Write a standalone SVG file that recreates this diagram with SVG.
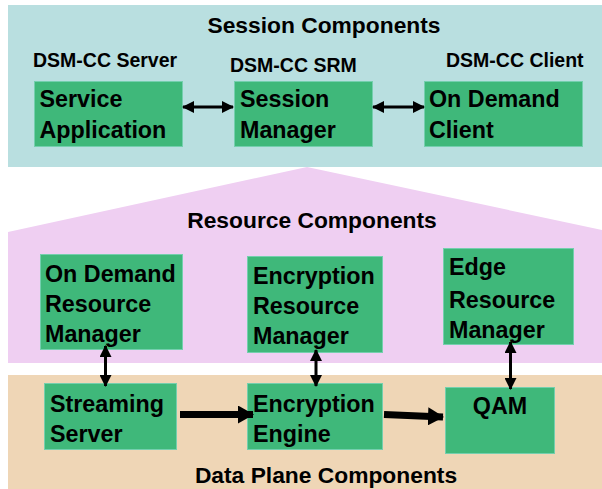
<svg xmlns="http://www.w3.org/2000/svg" width="602" height="489" viewBox="0 0 602 489">
<defs>
<marker id="ah" viewBox="0 0 12 12" refX="11" refY="6" markerWidth="12" markerHeight="12" markerUnits="userSpaceOnUse" orient="auto-start-reverse"><path d="M0,0 L12,6 L0,12 Z" fill="#000"/></marker>
<marker id="ahb" viewBox="0 0 16 18" refX="15" refY="9" markerWidth="16" markerHeight="18" markerUnits="userSpaceOnUse" orient="auto"><path d="M0,0 L16,9 L0,18 Z" fill="#000"/></marker>
</defs>
<style>
.box{fill:#3fb87a;stroke:#74cfae;stroke-width:1}
.t{font-family:"Liberation Sans",Arial,sans-serif;font-weight:bold;fill:#000}
.bt{font-size:23.3px}
.ti{font-size:22.8px}
.lb{font-size:19.5px}
.c{stroke:#000;fill:none}
</style>
<g id="panels">
<rect x="8" y="5" width="594" height="162" fill="#b9dfe0"/>
<polygon points="8,363 8,232 307,167 602,230 602,363" fill="#efcff2"/>
<rect x="8" y="375" width="594" height="114" fill="#efd6b6"/>
<text class="t ti" x="324" y="33" text-anchor="middle">Session Components</text>
<text class="t ti" x="312" y="228" text-anchor="middle">Resource Components</text>
<text class="t ti" x="326" y="483" text-anchor="middle">Data Plane Components</text>
<text class="t lb" x="33" y="67">DSM-CC Server</text>
<text class="t lb" x="230" y="72">DSM-CC SRM</text>
<text class="t lb" x="446" y="67">DSM-CC Client</text>
</g>
<g id="service-application">
<rect class="box" x="34.5" y="81.5" width="148" height="65"/>
<text class="t bt" x="39.5" y="107">Service</text>
<text class="t bt" x="39.5" y="138">Application</text>
</g>
<g id="session-manager">
<rect class="box" x="234.5" y="81.5" width="138" height="65"/>
<text class="t bt" x="240" y="107">Session</text>
<text class="t bt" x="240" y="138">Manager</text>
</g>
<g id="on-demand-client">
<rect class="box" x="424.5" y="81.5" width="158" height="65"/>
<text class="t bt" x="429" y="107">On Demand</text>
<text class="t bt" x="429" y="138">Client</text>
</g>
<g id="on-demand-resource-manager">
<rect class="box" x="40.5" y="254.5" width="142" height="95"/>
<text class="t bt" x="45" y="282">On Demand</text>
<text class="t bt" x="45" y="312">Resource</text>
<text class="t bt" x="45" y="342">Manager</text>
</g>
<g id="encryption-resource-manager">
<rect class="box" x="247.5" y="256.5" width="135" height="96"/>
<text class="t bt" x="253" y="284">Encryption</text>
<text class="t bt" x="253" y="314">Resource</text>
<text class="t bt" x="253" y="344">Manager</text>
</g>
<g id="edge-resource-manager">
<rect class="box" x="443.5" y="248.5" width="130" height="96"/>
<text class="t bt" x="449" y="275">Edge</text>
<text class="t bt" x="449" y="308">Resource</text>
<text class="t bt" x="449" y="338">Manager</text>
</g>
<g id="streaming-server">
<rect class="box" x="44.5" y="383.5" width="132" height="66"/>
<text class="t bt" x="50" y="412">Streaming</text>
<text class="t bt" x="50" y="442">Server</text>
</g>
<g id="encryption-engine">
<rect class="box" x="247.5" y="383.5" width="135" height="66"/>
<text class="t bt" x="253" y="412">Encryption</text>
<text class="t bt" x="253" y="442">Engine</text>
</g>
<g id="qam">
<rect class="box" x="445.5" y="387.5" width="109" height="66"/>
<text class="t bt" x="500" y="414" text-anchor="middle">QAM</text>
</g>
<g id="connectors">
<line class="c" x1="183" y1="107" x2="233" y2="107" stroke-width="3" marker-start="url(#ah)" marker-end="url(#ah)"/>
<line class="c" x1="373" y1="107" x2="424" y2="107" stroke-width="3" marker-start="url(#ah)" marker-end="url(#ah)"/>
<line class="c" x1="105.5" y1="346" x2="105.5" y2="386" stroke-width="3" marker-start="url(#ah)" marker-end="url(#ah)"/>
<line class="c" x1="316" y1="350" x2="316" y2="386" stroke-width="3" marker-start="url(#ah)" marker-end="url(#ah)"/>
<line class="c" x1="510.5" y1="342" x2="510.5" y2="389" stroke-width="3" marker-start="url(#ah)" marker-end="url(#ah)"/>
<line class="c" x1="180" y1="414.5" x2="253" y2="414.5" stroke-width="7" marker-end="url(#ahb)"/>
<line class="c" x1="384" y1="414.5" x2="443" y2="417" stroke-width="7" marker-end="url(#ahb)"/>
</g>
</svg>
